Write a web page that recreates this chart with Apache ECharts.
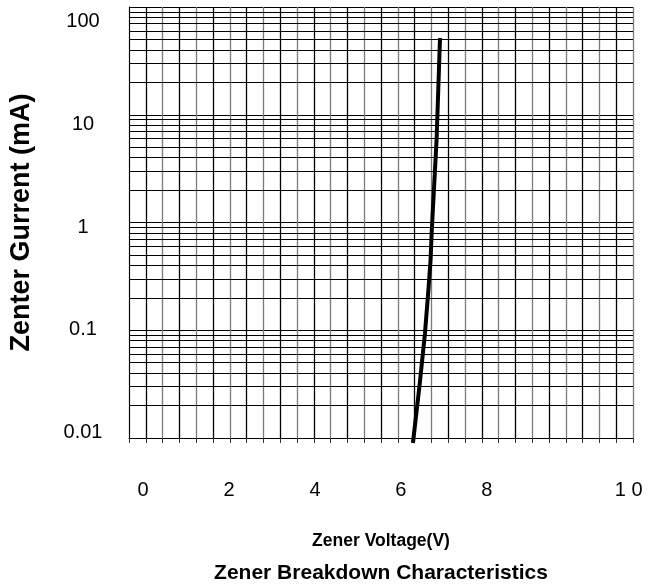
<!DOCTYPE html>
<html><head><meta charset="utf-8">
<script src="https://cdn.jsdelivr.net/npm/echarts@6/dist/echarts.min.js"></script>
<style>html,body{margin:0;padding:0;background:#fff}#c{width:657px;height:587px}</style>
</head><body><div id="c"></div>
<script>
// Data
const voltage = [6.28, 6.44, 6.56, 6.64, 6.69, 6.72, 6.83, 6.91];
const current = [0.0078, 0.030, 0.092, 0.243, 0.476, 0.956, 7.06, 69.8];

// Tick labels (positions as drawn in the reference)
const xTickValues = [0, 2, 4, 6, 8, 11.3];
const xTickLabels = ['0', '2', '4', '6', '8', '1 0'];
const yTickValues = [0.01, 0.1, 1, 10, 100];
const yTickLabels = ['0.01', '0.1', '1', '10', '100'];

// Graph-paper grid
const gridDecades = [0.01, 0.1, 1, 10];
const gridSteps = [2, 3, 4, 5, 6, 7, 8, 9];
const vGridCount = 30;

const FONT = "'Liberation Sans', Arial, sans-serif";
const minorLines = [];
gridDecades.forEach(d => gridSteps.forEach(k => minorLines.push({ yAxis: +(k * d).toPrecision(3) })));

const chart = echarts.init(document.getElementById('c'), null, { renderer: 'canvas' });
const option = {
  animation: false,
  backgroundColor: '#fff',
  title: {
    text: 'Zener Breakdown Characteristics', left: 381, top: 563, textAlign: 'center',
    padding: 0,
    textStyle: { fontFamily: FONT, fontWeight: 'bold', fontSize: 21, color: '#000' }
  },
  grid: { left: 129, right: 24, top: 7, bottom: 149 },
  xAxis: [
    {
      type: 'value', min: -0.326, max: 11.4, position: 'bottom',
      name: 'Zener Voltage(V)', nameLocation: 'middle', nameGap: 94,
      nameTextStyle: { fontFamily: FONT, fontWeight: 'bold', fontSize: 17.5, color: '#000' },
      axisLine: { show: false }, axisTick: { show: false }, splitLine: { show: false },
      axisLabel: {
        customValues: xTickValues,
        formatter: (v) => { const i = xTickValues.indexOf(v); return i >= 0 ? xTickLabels[i] : ''; },
        margin: 42, fontSize: 20, color: '#000', fontFamily: FONT
      }
    },
    {
      type: 'value', min: 0, max: vGridCount, interval: 1, position: 'bottom',
      axisLine: { show: true, onZero: false, lineStyle: { color: '#000', width: 1 } },
      axisTick: { show: true, length: 5, lineStyle: { color: '#333' } },
      axisLabel: { show: false },
      splitLine: { show: true, lineStyle: { color: ['#7a7a7a', '#000'], width: 1.3 } }
    }
  ],
  yAxis: [
    {
      type: 'log', logBase: 10, min: 0.00874, max: 140, position: 'left',
      name: 'Zenter Gurrent (mA)', nameLocation: 'middle', nameGap: 94, nameRotate: 90,
      nameTextStyle: { fontFamily: FONT, fontWeight: 'bold', fontSize: 27, color: '#000' },
      axisLine: { show: true, onZero: false, lineStyle: { color: '#000', width: 1 } },
      axisTick: { show: false }, splitLine: { show: false },
      axisLabel: {
        showMinLabel: false, showMaxLabel: false,
        formatter: (v) => {
          const i = yTickValues.findIndex(t => Math.abs(t - v) / t < 1e-6);
          return i >= 0 ? yTickLabels[i] : '';
        },
        align: 'center', margin: 46, fontSize: 20, color: '#000', fontFamily: FONT
      }
    },
    {
      type: 'log', logBase: 10, min: 0.01, max: 100, position: 'left',
      axisLine: { show: false }, axisTick: { show: false }, axisLabel: { show: false },
      splitLine: { show: true, lineStyle: { color: '#000', width: 1 } }
    }
  ],
  series: [
    {
      type: 'line', xAxisIndex: 1, yAxisIndex: 1, data: [[0, 1]], symbol: 'none',
      lineStyle: { width: 0 }, silent: true,
      markLine: {
        silent: true, symbol: 'none', animation: false, label: { show: false },
        lineStyle: { color: '#000', width: 1, type: 'solid' },
        data: minorLines
      }
    },
    {
      type: 'line', xAxisIndex: 0, yAxisIndex: 0,
      data: voltage.map((v, i) => [v, current[i]]),
      showSymbol: false, symbol: 'none', clip: false, z: 10,
      lineStyle: { color: '#000', width: 4, cap: 'butt', join: 'round' }
    }
  ]
};
chart.setOption(option);
</script>
</body></html>
